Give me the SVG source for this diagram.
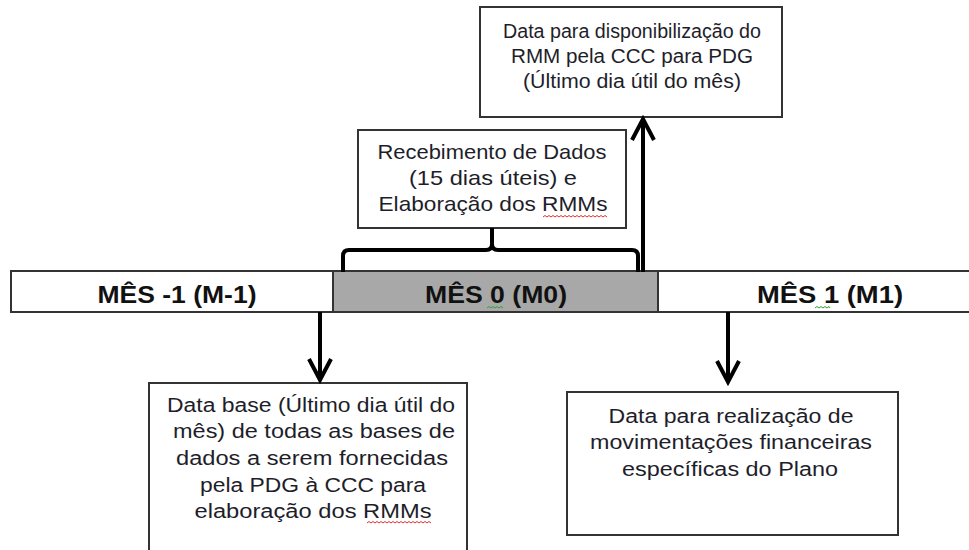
<svg xmlns="http://www.w3.org/2000/svg" width="969" height="550" viewBox="0 0 969 550">
<style>
.box{fill:#fff;stroke:#333;stroke-width:2}
.t{font-family:"Liberation Sans",Arial,sans-serif;font-size:20px;fill:#1e1e2a;text-anchor:middle}
.b{font-family:"Liberation Sans",Arial,sans-serif;font-size:24px;font-weight:bold;fill:#111;text-anchor:middle}
.ln{fill:none;stroke:#000;stroke-width:4}
.hd{fill:none;stroke:#000;stroke-width:4;stroke-linejoin:miter}
.sqr{fill:none;stroke:#e03030;stroke-width:1}
.sqg{fill:none;stroke:#30a030;stroke-width:1}
</style>
<rect width="969" height="550" fill="#fff"/>
<g id="timeline">
<rect x="11" y="271" width="962" height="41" class="box"/>
<rect x="333" y="271" width="325" height="41" fill="#a8a8a8" stroke="#333" stroke-width="2"/>
<text class="b" x="177" y="303" textLength="159" lengthAdjust="spacingAndGlyphs">MÊS -1 (M-1)</text>
<text class="b" x="496" y="303" textLength="142" lengthAdjust="spacingAndGlyphs">MÊS 0 (M0)</text>
<text class="b" x="830" y="303" textLength="146" lengthAdjust="spacingAndGlyphs">MÊS 1 (M1)</text>
<path class="sqg" d="M487,308 l2,-1.5 l2,1.5 l2,-1.5 l2,1.5 l2,-1.5 l2,1.5 l2,-1.5 l2,1.5"/>
<path class="sqg" d="M815,308 l2,-1.5 l2,1.5 l2,-1.5 l2,1.5 l2,-1.5 l2,1.5 l2,-1.5 l1,1.5"/>
</g>
<g id="node-top">
<rect x="480" y="7" width="302" height="110" class="box"/>
<text class="t" x="632" y="38" textLength="258" lengthAdjust="spacingAndGlyphs">Data para disponibilização do</text>
<text class="t" x="632" y="63" textLength="242" lengthAdjust="spacingAndGlyphs">RMM pela CCC para PDG</text>
<text class="t" x="632" y="88" textLength="218" lengthAdjust="spacingAndGlyphs">(Último dia útil do mês)</text>
</g>
<g id="node-middle">
<rect x="358" y="130" width="268" height="98" class="box"/>
<text class="t" x="492" y="159" textLength="229" lengthAdjust="spacingAndGlyphs" style="font-size:21px">Recebimento de Dados</text>
<text class="t" x="493" y="185" textLength="168" lengthAdjust="spacingAndGlyphs" style="font-size:21px">(15 dias úteis) e</text>
<text class="t" x="493" y="211" textLength="229" lengthAdjust="spacingAndGlyphs" style="font-size:21px">Elaboração dos RMMs</text>
<path class="sqr" d="M543,217 l2,-1.5 l2,1.5 l2,-1.5 l2,1.5 l2,-1.5 l2,1.5 l2,-1.5 l2,1.5 l2,-1.5 l2,1.5 l2,-1.5 l2,1.5 l2,-1.5 l2,1.5 l2,-1.5 l2,1.5 l2,-1.5 l2,1.5 l2,-1.5 l2,1.5 l2,-1.5 l2,1.5 l2,-1.5 l2,1.5 l2,-1.5 l2,1.5 l2,-1.5 l2,1.5 l2,-1.5 l2,1.5 l2,-1.5 l2,1.5"/>
</g>
<g id="node-bottom-left">
<rect x="149" y="383" width="318" height="180" class="box"/>
<text class="t" x="311" y="412" textLength="288" lengthAdjust="spacingAndGlyphs">Data base (Último dia útil do</text>
<text class="t" x="314" y="438" textLength="282" lengthAdjust="spacingAndGlyphs">mês) de todas as bases de</text>
<text class="t" x="312" y="465" textLength="272" lengthAdjust="spacingAndGlyphs">dados a serem fornecidas</text>
<text class="t" x="313" y="492" textLength="226" lengthAdjust="spacingAndGlyphs">pela PDG à CCC para</text>
<text class="t" x="313" y="518" textLength="237" lengthAdjust="spacingAndGlyphs">elaboração dos RMMs</text>
<path class="sqr" d="M367,523 l2,-1.5 l2,1.5 l2,-1.5 l2,1.5 l2,-1.5 l2,1.5 l2,-1.5 l2,1.5 l2,-1.5 l2,1.5 l2,-1.5 l2,1.5 l2,-1.5 l2,1.5 l2,-1.5 l2,1.5 l2,-1.5 l2,1.5 l2,-1.5 l2,1.5 l2,-1.5 l2,1.5 l2,-1.5 l2,1.5 l2,-1.5 l2,1.5 l2,-1.5 l2,1.5 l2,-1.5 l2,1.5 l2,-1.5 l2,1.5"/>
</g>
<g id="node-bottom-right">
<rect x="567" y="392" width="331" height="143" class="box"/>
<text class="t" x="731" y="423" textLength="245" lengthAdjust="spacingAndGlyphs">Data para realização de</text>
<text class="t" x="731" y="449" textLength="282" lengthAdjust="spacingAndGlyphs">movimentações financeiras</text>
<text class="t" x="730" y="476" textLength="216" lengthAdjust="spacingAndGlyphs">específicas do Plano</text>
</g>
<g id="connectors">
<path class="ln" d="M343,272 L343,256 Q343,250 349,250 L486,250 Q492,250 492,244 L492,228 M492,244 Q492,250 498,250 L632,250 Q638,250 638,256 L638,272"/>
<path class="ln" d="M643,272 L643,121"/>
<path class="hd" d="M632,140 L643,119 L654,140"/>
<path class="ln" d="M320,312 L320,378"/>
<path class="hd" d="M309,359 L320,380 L331,359"/>
<path class="ln" d="M728,312 L728,379"/>
<path class="hd" d="M717,361 L728,382 L739,361"/>
</g>
</svg>
